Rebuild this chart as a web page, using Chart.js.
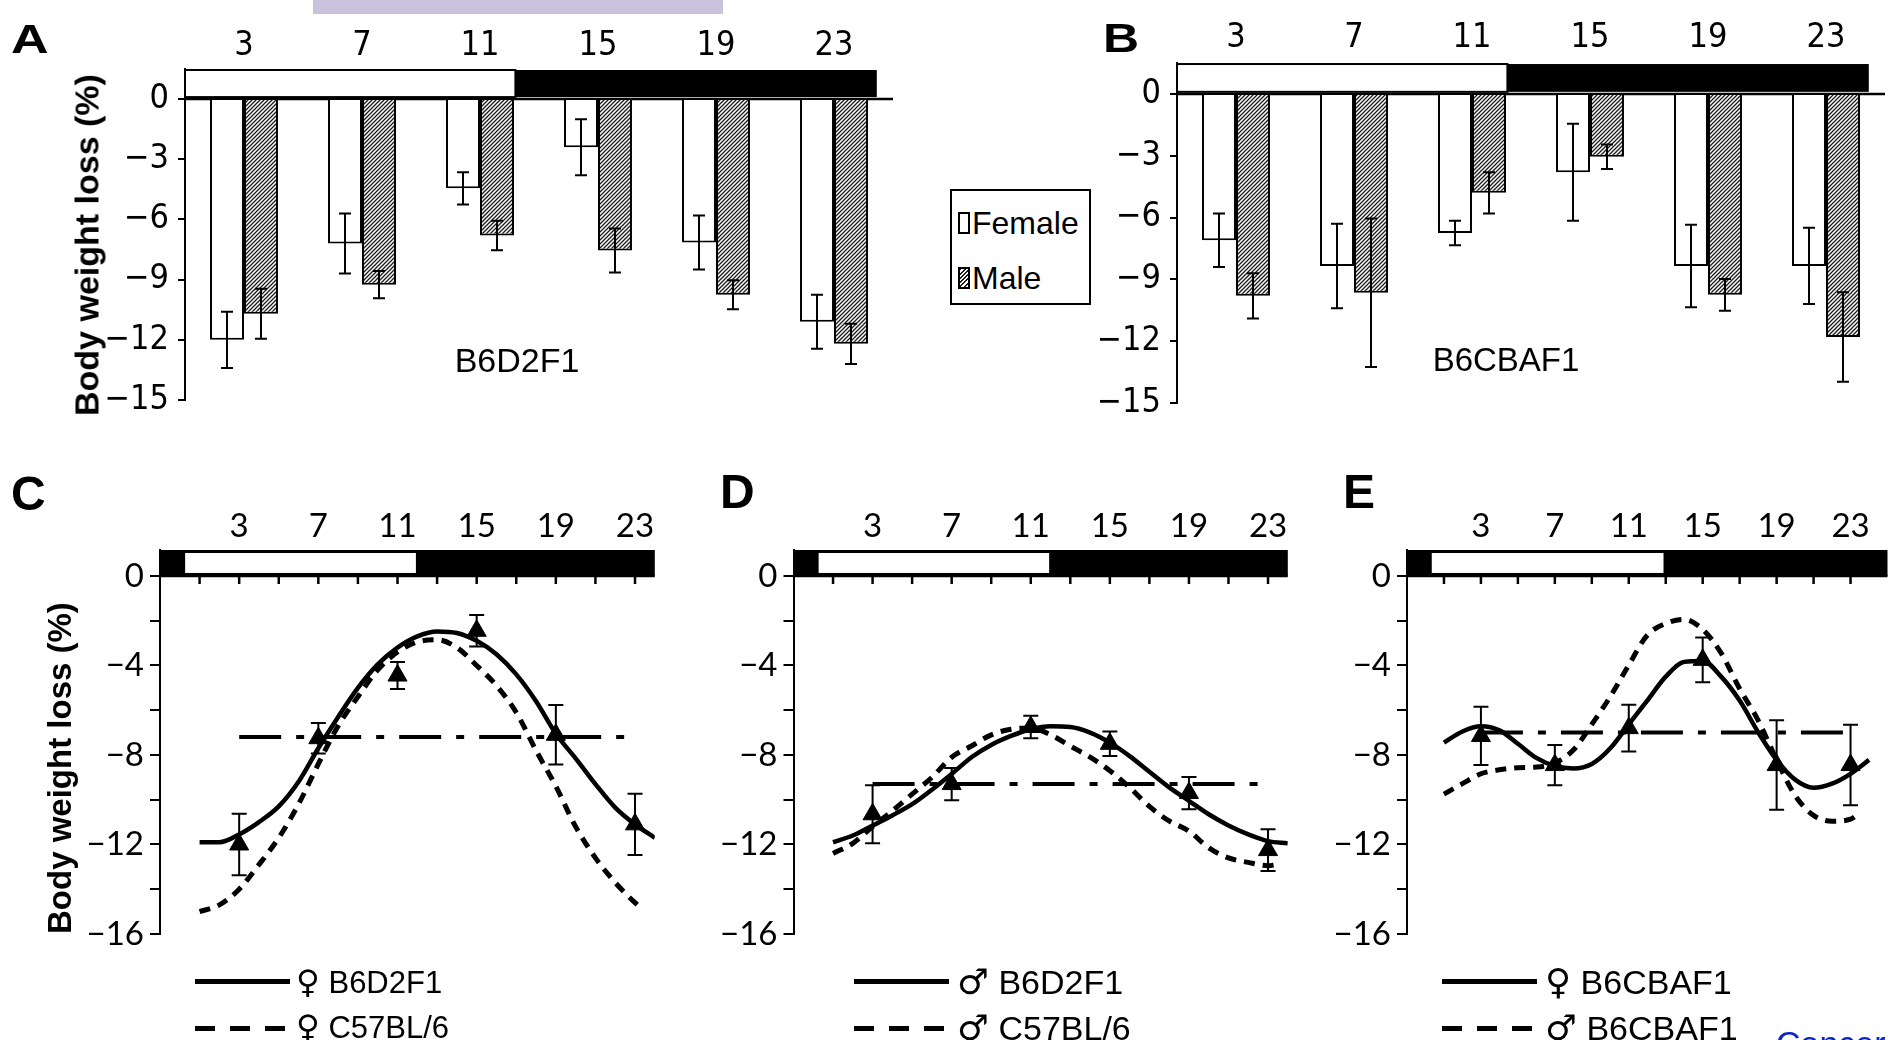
<!DOCTYPE html>
<html>
<head>
<meta charset="utf-8">
<script src="https://cdn.jsdelivr.net/npm/chart.js@4.4.1/dist/chart.umd.min.js"></script>
<style>
  html, body { margin: 0; padding: 0; background: #fff; }
  body { width: 1888px; height: 1040px; overflow: hidden; position: relative; }
  canvas { position: absolute; }
  .t { position: absolute; font-family: 'Liberation Sans', Arial, sans-serif; color: #000;
       line-height: 1; white-space: nowrap; }
  .letter { font-weight: bold; transform-origin: left center; }
  .strain { font-size: 34px; transform: translateX(-50%); }
  .sym { font-family: 'DejaVu Sans', sans-serif; font-size: 1.05em; }
  .ytitle { position: absolute; font: bold 34px 'Liberation Sans', Arial, sans-serif; white-space: nowrap;
            transform: translate(-50%, -50%) rotate(-90deg); }
  .leg-line { position: absolute; width: 95px; height: 5px; background: #000; }
  .leg-dash { position: absolute; width: 95px; height: 5px;
              background: repeating-linear-gradient(90deg, #000 0 20px, transparent 20px 35px); }
  .swatch { position: absolute; width: 12px; height: 22px; box-sizing: border-box; border: 2px solid #000; background: #fff; }
</style>
</head>
<body>
<div style="position:absolute;left:313px;top:0;width:410px;height:14px;background:#cac2dc"></div>

<canvas id="cA" width="900" height="440" style="left:0;top:0"></canvas>
<canvas id="cB" width="788" height="440" style="left:1100px;top:0"></canvas>
<canvas id="cC" width="680" height="550" style="left:0;top:420px"></canvas>
<canvas id="cD" width="620" height="550" style="left:680px;top:420px"></canvas>
<canvas id="cE" width="588" height="550" style="left:1300px;top:420px"></canvas>

<!-- panel letters -->
<div class="t letter" style="left:11px;top:19px;font-size:40px;transform:scaleX(1.3)">A</div>
<div class="t letter" style="left:1103px;top:18px;font-size:40px;transform:scaleX(1.25)">B</div>
<div class="t letter" style="left:11px;top:470px;font-size:48px">C</div>
<div class="t letter" style="left:720px;top:468px;font-size:48px">D</div>
<div class="t letter" style="left:1343px;top:468px;font-size:48px">E</div>

<div class="ytitle" style="left:87px;top:245px">Body weight loss (%)</div>

<!-- strain names inside the bar panels -->
<div class="t strain" style="left:517px;top:343px">B6D2F1</div>
<div class="t strain" style="left:1506px;top:343px;font-size:33px">B6CBAF1</div>

<!-- sex legend for the bar panels -->
<div style="position:absolute;left:950px;top:189px;width:141px;height:116px;box-sizing:border-box;border:2px solid #000;background:#fff"></div>
<div class="swatch" style="left:958px;top:212px"></div>
<div class="t" style="left:972px;top:207px;font-size:32px">Female</div>
<div class="swatch" style="left:958px;top:267px;background:repeating-linear-gradient(135deg,#1a1a1a 0 1.3px,#fff 1.3px 3px)"></div>
<div class="t" style="left:972px;top:262px;font-size:32px">Male</div>

<!-- curve legends -->
<div class="leg-line" style="left:195px;top:979px"></div>
<div class="t" style="left:296px;top:966px;font-size:31px"><span class="sym">♀</span> B6D2F1</div>
<div class="leg-dash" style="left:195px;top:1026px"></div>
<div class="t" style="left:296px;top:1011px;font-size:31px"><span class="sym">♀</span> C57BL/6</div>

<div class="leg-line" style="left:854px;top:979px"></div>
<div class="t" style="left:957px;top:964px;font-size:34px"><span class="sym">♂</span> B6D2F1</div>
<div class="leg-dash" style="left:854px;top:1026px"></div>
<div class="t" style="left:957px;top:1010px;font-size:34px"><span class="sym">♂</span> C57BL/6</div>

<div class="leg-line" style="left:1442px;top:979px"></div>
<div class="t" style="left:1545px;top:964px;font-size:34px"><span class="sym">♀</span> B6CBAF1</div>
<div class="leg-dash" style="left:1442px;top:1026px"></div>
<div class="t" style="left:1545px;top:1010px;font-size:34px"><span class="sym">♂</span> B6CBAF1</div>

<div class="t" style="left:1776px;top:1026px;font-size:34px;color:#0b24c6">Cancer</div>

<script>
// dosing time (hours after light onset)
const barHours = ['3', '7', '11', '15', '19', '23'];
const dosingHours = [3, 7, 11, 15, 19, 23];
const barYTicks = [-15, -12, -9, -6, -3, 0];
const lineYTicks = [-16, -14, -12, -10, -8, -6, -4, -2, 0];

// A: B6D2F1 body weight loss (%)
const b6d2Female    = [-12.0, -7.2, -4.45, -2.4, -7.15, -11.1];
const b6d2FemaleErr = [1.4, 1.5, 0.8, 1.4, 1.35, 1.35];
const b6d2Male      = [-10.7, -9.25, -6.8, -7.55, -9.75, -12.2];
const b6d2MaleErr   = [1.25, 0.68, 0.73, 1.1, 0.72, 1.0];

// B: B6CBAF1 body weight loss (%)
const b6cbaFemale    = [-7.1, -8.35, -6.75, -3.8, -8.35, -8.35];
const b6cbaFemaleErr = [1.3, 2.05, 0.6, 2.35, 2.0, 1.85];
const b6cbaMale      = [-9.8, -9.65, -4.8, -3.05, -9.75, -11.8];
const b6cbaMaleErr   = [1.1, 3.6, 1.0, 0.6, 0.77, 2.17];

// fitted cosinor curves, sampled hourly
const fitHours      = [1,2,3,4,5,6,7,8,9,10,11,12,13,14,15,16,17,18,19,20,21,22,23,24];
const fitHoursShort = [1,2,3,4,5,6,7,8,9,10,11,12,13,14,15,16,17,18,19,20,21,22,23,23.4];

// C: female B6D2F1 vs female C57BL/6
const cMean   = [-12.0, -7.25, -4.45, -2.45, -7.1, -11.1];
const cErr    = [1.37, 0.68, 0.6, 0.7, 1.33, 1.37];
const cSolid  = [-11.9,-11.9,-11.55,-11.0,-10.3,-9.2,-7.7,-6.3,-5.0,-3.95,-3.2,-2.7,-2.48,-2.55,-2.9,-3.5,-4.4,-5.6,-7.05,-8.15,-9.3,-10.35,-11.1,-11.7];
const cDashed = [-15.0,-14.7,-14.0,-12.9,-11.7,-10.2,-8.4,-6.7,-5.4,-4.2,-3.4,-2.95,-2.85,-3.2,-4.0,-4.9,-6.1,-7.8,-9.4,-11.2,-12.6,-13.7,-14.6,-14.9];
const cMesor  = -7.2;

// D: male B6D2F1 vs male C57BL/6
const dMean   = [-10.65, -9.3, -6.75, -7.5, -9.7, -12.25];
const dErr    = [1.3, 0.72, 0.5, 0.55, 0.72, 0.93];
const dSolid  = [-11.9,-11.6,-11.15,-10.7,-10.2,-9.55,-8.85,-8.1,-7.55,-7.15,-6.85,-6.72,-6.75,-7.0,-7.45,-8.05,-8.75,-9.45,-10.05,-10.65,-11.15,-11.55,-11.85,-11.95];
const dDashed = [-12.4,-11.95,-11.2,-10.5,-9.75,-9.0,-8.1,-7.6,-7.1,-6.85,-6.8,-7.1,-7.6,-8.1,-8.7,-9.45,-10.3,-10.95,-11.4,-12.15,-12.6,-12.8,-12.95,-12.9];
const dMesor  = -9.3;

// E: female vs male B6CBAF1
const eMean   = [-7.15, -8.45, -6.8, -3.75, -8.45, -8.45];
const eErr    = [1.3, 0.9, 1.05, 1.0, 2.0, 1.8];
const eSolid  = [-7.45,-6.95,-6.72,-6.9,-7.5,-8.13,-8.49,-8.6,-8.4,-7.7,-6.63,-5.57,-4.5,-3.84,-3.8,-4.5,-5.57,-6.98,-8.22,-9.1,-9.46,-9.28,-8.84,-8.22];
const eDashed = [-9.75,-9.28,-8.84,-8.66,-8.57,-8.54,-8.36,-7.78,-6.63,-5.39,-3.98,-2.65,-2.12,-1.94,-2.39,-3.45,-5.04,-6.45,-8.22,-9.81,-10.7,-10.96,-10.87,-10.66];
const eMesor  = -7.0;

// light phase (white) of the light/dark bar, in hours
const lightAB = [1, 12.2];
const lightCD = [0.27, 11.93];
const lightE  = [0.34, 12.88];

const SANS = "'Liberation Sans', Arial, sans-serif";
const NARROW = "'Liberation Sans Narrow', 'Arial Narrow', 'DejaVu Sans Condensed', sans-serif";
const HUMAN = "Lato, 'Open Sans', sans-serif";
const minus = v => (v < 0 ? '\u2212' + Math.abs(v) : String(v));

// white/black light-dark bar above the plot, zero line and hour ticks
const dayBar = {
  id: 'dayBar',
  beforeDatasetsDraw(chart, args, opts) {
    const { ctx, chartArea: a, scales: { x, y } } = chart;
    const y0 = y.getPixelForValue(0);
    let px, top, bot;
    if (opts.mode === 'bar') {
      const c0 = x.getPixelForValue(0);
      const step = (x.getPixelForValue(1) - c0) / 4;
      px = h => c0 + (h - 3) * step;
      top = y.getPixelForValue(opts.top);
      bot = y.getPixelForValue(opts.bottom);
    } else {
      px = h => x.getPixelForValue(h);
      top = a.top;
      bot = y0;
    }
    ctx.save();
    ctx.fillStyle = '#000';
    if (opts.mode === 'bar') {
      ctx.fillRect(px(opts.light[1]), top, px(opts.end) - px(opts.light[1]), bot - top);
      ctx.fillStyle = '#fff';
      ctx.fillRect(px(opts.light[0]), top, px(opts.light[1]) - px(opts.light[0]), bot - top);
      ctx.strokeStyle = '#000';
      ctx.lineWidth = 2;
      ctx.strokeRect(px(opts.light[0]), top, px(opts.light[1]) - px(opts.light[0]), bot - top);
    } else {
      ctx.fillRect(a.left, top, a.right - a.left, bot - top);
      ctx.fillStyle = '#fff';
      ctx.fillRect(px(opts.light[0]), top + 3, px(opts.light[1]) - px(opts.light[0]), bot - top - 6);
    }
    ctx.strokeStyle = '#000';
    ctx.lineWidth = 2.5;
    ctx.beginPath();
    ctx.moveTo(a.left, y0);
    ctx.lineTo(a.right, y0);
    if (opts.mode !== 'bar') {
      for (let h = 1; h <= 23; h += 2) {
        ctx.moveTo(px(h), y0);
        ctx.lineTo(px(h), y0 + 8);
      }
    }
    ctx.stroke();
    ctx.restore();
  }
};

// vertical error bars with caps, read from dataset.errors
const errorBars = {
  id: 'errorBars',
  afterDatasetsDraw(chart, args, opts) {
    const { ctx, scales: { y } } = chart;
    ctx.save();
    ctx.strokeStyle = '#000';
    ctx.lineWidth = 2;
    chart.data.datasets.forEach((ds, i) => {
      if (!ds.errors) return;
      const meta = chart.getDatasetMeta(i);
      meta.data.forEach((el, j) => {
        const d = ds.data[j];
        const v = typeof d === 'object' ? d.y : d;
        const e = ds.errors[j];
        const t = y.getPixelForValue(v + e), b = y.getPixelForValue(v - e);
        const c = opts.cap / 2;
        ctx.beginPath();
        ctx.moveTo(el.x, t); ctx.lineTo(el.x, b);
        ctx.moveTo(el.x - c, t); ctx.lineTo(el.x + c, t);
        ctx.moveTo(el.x - c, b); ctx.lineTo(el.x + c, b);
        ctx.stroke();
      });
    });
    ctx.restore();
  }
};

function hatchPattern(ctx) {
  const c = document.createElement('canvas');
  c.width = c.height = 4;
  const g = c.getContext('2d');
  g.fillStyle = '#fff';
  g.fillRect(0, 0, 4, 4);
  g.strokeStyle = '#1a1a1a';
  g.lineWidth = 1.3;
  g.beginPath();
  g.moveTo(0, 4); g.lineTo(4, 0);
  g.moveTo(-1, 1); g.lineTo(1, -1);
  g.moveTo(3, 5); g.lineTo(5, 3);
  g.stroke();
  return ctx.createPattern(c, 'repeat');
}

function barPanel(id, female, femaleErr, male, maleErr, cfg) {
  const ctx = document.getElementById(id).getContext('2d');
  new Chart(ctx, {
    type: 'bar',
    data: {
      labels: barHours,
      datasets: [
        { label: 'Female', data: female, errors: femaleErr, backgroundColor: '#fff',
          borderColor: '#000', borderWidth: 2 },
        { label: 'Male', data: male, errors: maleErr, backgroundColor: hatchPattern(ctx),
          borderColor: '#000', borderWidth: 2 }
      ]
    },
    options: {
      responsive: false,
      animation: false,
      datasets: { bar: { categoryPercentage: 0.576, barPercentage: 1.0 } },
      layout: { padding: cfg.padding, autoPadding: false },
      plugins: {
        legend: { display: false },
        tooltip: { enabled: false },
        dayBar: { mode: 'bar', light: lightAB, end: 24.45, top: 1.45, bottom: 0.1 },
        errorBars: { cap: 12 }
      },
      scales: {
        x: {
          position: 'top',
          grid: { display: false, drawTicks: false },
          border: { display: false },
          ticks: { color: '#000', font: { family: NARROW, size: 34 }, padding: cfg.xPad, maxRotation: 0 },
          afterFit: s => { s.height = cfg.xHeight; }
        },
        y: {
          min: -15,
          max: 1.5,
          afterBuildTicks: s => { s.ticks = barYTicks.map(v => ({ value: v })); },
          ticks: { color: '#000', font: { family: NARROW, size: 34 }, padding: 9, autoSkip: false,
                   callback: v => minus(v) },
          grid: { drawOnChartArea: false, color: '#000', lineWidth: 2, tickLength: 7 },
          border: { color: '#000', width: 2 },
          afterFit: s => { s.width = cfg.yWidth; }
        }
      }
    },
    plugins: [dayBar, errorBars]
  });
}

function linePanel(id, mean, err, solid, dashed, dashedHours, mesor, cfg) {
  const pts = (xs, ys) => xs.map((h, i) => ({ x: h, y: ys[i] }));
  new Chart(document.getElementById(id), {
    type: 'line',
    data: {
      datasets: [
        { data: pts(dosingHours, mean), errors: err, showLine: false, pointStyle: 'triangle',
          pointRadius: 11, backgroundColor: '#000', borderColor: '#000', pointBorderWidth: 1 },
        { data: pts(fitHours, solid), borderColor: '#000', borderWidth: 4.5, pointRadius: 0,
          cubicInterpolationMode: 'monotone', fill: false },
        { data: pts(dashedHours, dashed), borderColor: '#000', borderWidth: 5, borderDash: [11, 8],
          pointRadius: 0, cubicInterpolationMode: 'monotone', fill: false },
        { data: [{ x: 3, y: mesor }, { x: 23, y: mesor }], borderColor: '#000', borderWidth: 4,
          borderDash: [42, 15, 8, 15], pointRadius: 0, fill: false }
      ]
    },
    options: {
      responsive: false,
      animation: false,
      layout: { padding: cfg.padding, autoPadding: false },
      plugins: {
        legend: { display: false },
        tooltip: { enabled: false },
        dayBar: { mode: 'line', light: cfg.light },
        errorBars: { cap: 15 }
      },
      scales: {
        x: {
          type: 'linear',
          position: 'top',
          min: -1,
          max: cfg.xMax,
          afterBuildTicks: s => { s.ticks = dosingHours.map(v => ({ value: v })); },
          grid: { display: false, drawTicks: false },
          border: { display: false },
          ticks: { color: '#000', font: { family: HUMAN, size: 33 }, padding: 4, autoSkip: false,
                   maxRotation: 0, callback: v => String(v) },
          afterFit: s => { s.height = 130; }
        },
        y: {
          min: -16,
          max: 1.16,
          afterBuildTicks: s => { s.ticks = lineYTicks.map(v => ({ value: v })); },
          ticks: { color: '#000', font: { family: HUMAN, size: 33 }, padding: 6,
                   autoSkip: false, callback: v => (v % 4 === 0 ? minus(v) : '') },
          grid: { drawOnChartArea: false, color: '#000', lineWidth: 2, tickLength: 10 },
          border: { color: '#000', width: 2 },
          title: cfg.title
            ? { display: true, text: 'Body weight loss (%)', color: '#000', align: 'start',
                font: { family: SANS, size: 33, weight: 'bold' }, padding: { top: 6, bottom: 0 } }
            : { display: false },
          afterFit: s => { s.width = cfg.yWidth; }
        }
      }
    },
    plugins: [dayBar, errorBars]
  });
}

barPanel('cA', b6d2Female, b6d2FemaleErr, b6d2Male, b6d2MaleErr,
  { padding: { left: 60, right: 7, top: 0, bottom: 40 }, xHeight: 69, yWidth: 125, xPad: 2 });
barPanel('cB', b6cbaFemale, b6cbaFemaleErr, b6cbaMale, b6cbaMaleErr,
  { padding: { left: 0, right: 3, top: 0, bottom: 37 }, xHeight: 63, yWidth: 77, xPad: 4 });

linePanel('cC', cMean, cErr, cSolid, cDashed, fitHoursShort, cMesor,
  { padding: { left: 36, right: 25.2, top: 0, bottom: 36 }, yWidth: 124, xMax: 24, light: lightCD, title: true });
linePanel('cD', dMean, dErr, dSolid, dDashed, fitHoursShort, dMesor,
  { padding: { left: 0, right: 12.2, top: 0, bottom: 36 }, yWidth: 113.5, xMax: 24, light: lightCD });
linePanel('cE', eMean, eErr, eSolid, eDashed, fitHoursShort, eMesor,
  { padding: { left: 0, right: 0.5, top: 0, bottom: 36 }, yWidth: 107, xMax: 25, light: lightE });
</script>
</body>
</html>
